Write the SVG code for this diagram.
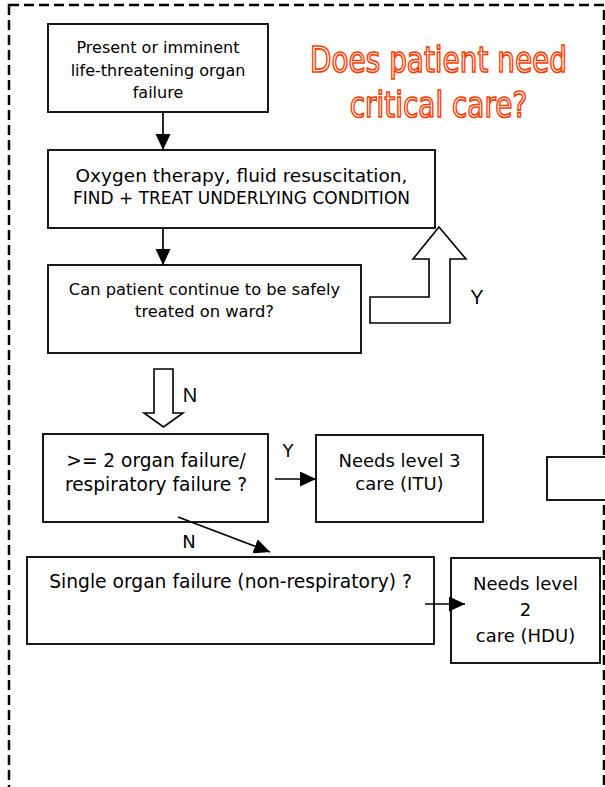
<svg xmlns="http://www.w3.org/2000/svg" width="605" height="787" viewBox="0 0 605 787">
<style>
.nd rect{fill:#fff;stroke:#000;stroke-width:1.8}
.t{font-family:"DejaVu Sans","Liberation Sans",sans-serif;fill:#000;text-anchor:middle}
.lb{font-family:"Liberation Sans","DejaVu Sans",sans-serif;fill:#000;text-anchor:middle}
.cn line{stroke:#000;stroke-width:1.7;fill:none}
.blk{fill:#fff;stroke:#000;stroke-width:1.6;stroke-linejoin:miter}
.ttl{font-family:"DejaVu Sans",sans-serif;font-size:36px;fill:#fff;stroke:#ff3c00;stroke-width:1.7;text-anchor:middle}
</style>
<defs>
<marker id="ah" markerUnits="userSpaceOnUse" markerWidth="17" markerHeight="16" refX="16" refY="7.5" orient="auto" viewBox="0 0 17 16">
<path d="M0,0 L16,7.5 L0,15 z" fill="#000"/>
</marker>
</defs>
<rect x="9" y="5" width="595" height="820" fill="none" stroke="#000" stroke-width="2.5" stroke-dasharray="10 5"/>
<g id="title">
<text class="ttl" transform="translate(438.5,71.7) scale(0.775,1)" x="0" y="0">Does patient need</text>
<text class="ttl" transform="translate(438.5,117.3) scale(0.775,1)" x="0" y="0">critical care?</text>
</g>
<g id="n1" class="nd">
<rect x="48" y="24" width="220" height="88"/>
<text class="t" x="158" y="53" font-size="16">Present or imminent</text>
<text class="t" x="158" y="76" font-size="16">life-threatening organ</text>
<text class="t" x="158" y="98" font-size="16">failure</text>
</g>
<g id="n2" class="nd">
<rect x="48" y="150" width="387" height="78"/>
<text class="t" x="241.5" y="182" font-size="18.5">Oxygen therapy, fluid resuscitation,</text>
<text class="t" x="241.5" y="204" font-size="17">FIND + TREAT UNDERLYING CONDITION</text>
</g>
<g id="n3" class="nd">
<rect x="48" y="265" width="313" height="88"/>
<text class="t" x="204.5" y="295" font-size="16.3">Can patient continue to be safely</text>
<text class="t" x="204.5" y="317" font-size="16.3">treated on ward?</text>
</g>
<g id="n4" class="nd">
<rect x="43" y="434" width="225" height="88"/>
<text class="t" x="156" y="467" font-size="18.6">&gt;= 2 organ failure/</text>
<text class="t" x="156" y="491" font-size="18.6">respiratory failure ?</text>
</g>
<g id="n5" class="nd">
<rect x="316" y="435" width="167" height="87"/>
<text class="t" x="399.5" y="467" font-size="18">Needs level 3</text>
<text class="t" x="399.5" y="490" font-size="18">care (ITU)</text>
</g>
<g id="n6" class="nd">
<rect x="27" y="557" width="407" height="87"/>
<text class="t" x="230.5" y="588" font-size="18.7">Single organ failure (non-respiratory) ?</text>
</g>
<g id="n7" class="nd">
<rect x="451" y="558" width="149" height="105"/>
<text class="t" x="525.5" y="590" font-size="18">Needs level</text>
<text class="t" x="525.5" y="616" font-size="18">2</text>
<text class="t" x="525.5" y="642" font-size="18">care (HDU)</text>
</g>
<g id="n8" class="nd">
<rect x="547" y="457" width="100" height="43"/>
</g>
<g id="connectors" class="cn">
<line x1="163" y1="112" x2="163" y2="150" marker-end="url(#ah)"/>
<line x1="163" y1="228" x2="163" y2="265" marker-end="url(#ah)"/>
<line x1="275" y1="479" x2="316" y2="479" marker-end="url(#ah)"/>
<line x1="178" y1="517" x2="270" y2="552" marker-end="url(#ah)"/>
<line x1="425" y1="604" x2="465" y2="604" marker-end="url(#ah)"/>
<polygon class="blk" points="439,227 466,259 450,259 450,323 370,323 370,297 429,297 429,259 413,259"/>
<polygon class="blk" points="154,369 173,369 173,413 183,413 163.5,427 144,413 154,413"/>
<text class="lb" x="477" y="304" font-size="20">Y</text>
<text class="lb" x="190" y="402" font-size="20">N</text>
<text class="t" x="288" y="457" font-size="18">Y</text>
<text class="t" x="189" y="548" font-size="18">N</text>
</g>
</svg>
